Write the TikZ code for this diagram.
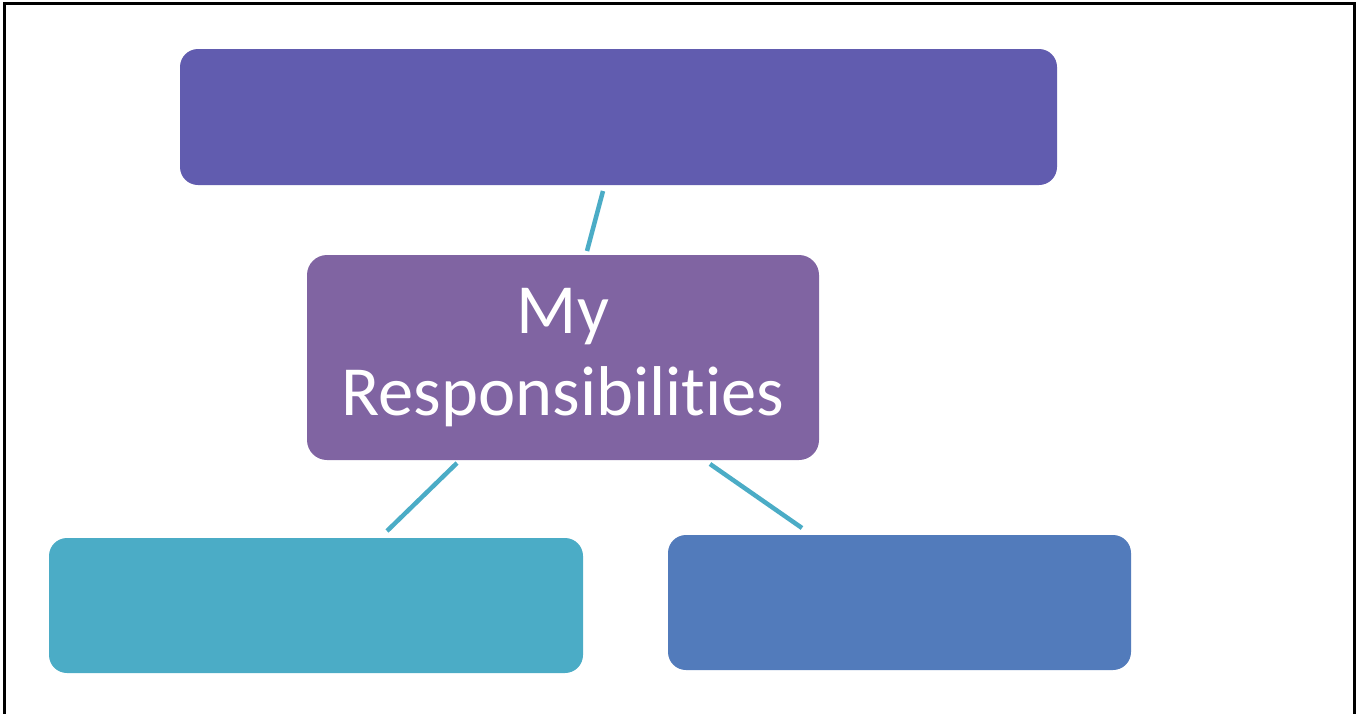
\documentclass[tikz,border=0pt]{standalone}
\usepackage{fontspec}
\setmainfont[Ligatures=NoCommon]{Carlito}
\definecolor{topc}{RGB}{97,92,175}
\definecolor{midc}{RGB}{128,100,162}
\definecolor{blc}{RGB}{75,172,198}
\definecolor{brc}{RGB}{82,123,187}
\definecolor{linec}{RGB}{75,172,198}
\tikzset{
  box/.style={rectangle, rounded corners=18pt, inner sep=0pt, draw=none},
  conn/.style={draw=linec, line width=4.5pt}
}
\begin{document}
\begin{tikzpicture}[x=1pt,y=-1pt]
\useasboundingbox (0,0) rectangle (1363,713);
\draw[line width=3pt] (4.5,730) -- (4.5,3.5) -- (1354.5,3.5) -- (1354.5,730);
\node[box, fill=topc, minimum width=877pt, minimum height=136pt] (top) at (618.5,117) {};
\node[box, fill=midc, rounded corners=20pt, minimum width=512pt, minimum height=205pt,
      text=white, align=center, font=\fontsize{70.5}{82}\selectfont] (mid) at (563,357.5) {My\\Responsibilities};
\node[box, fill=blc, minimum width=534pt, minimum height=135pt] (bl) at (316,605.5) {};
\node[box, fill=brc, minimum width=463pt, minimum height=135pt] (br) at (899.5,602.5) {};
\coordinate (t1) at (603,191);
\coordinate (t2) at (587,251);
\coordinate (l1) at (457,463);
\coordinate (l2) at (387,531);
\coordinate (r1) at (710,464);
\coordinate (r2) at (802,528);
\draw[conn] (t1) -- (t2);
\draw[conn] (l1) -- (l2);
\draw[conn] (r1) -- (r2);
\end{tikzpicture}
\end{document}
